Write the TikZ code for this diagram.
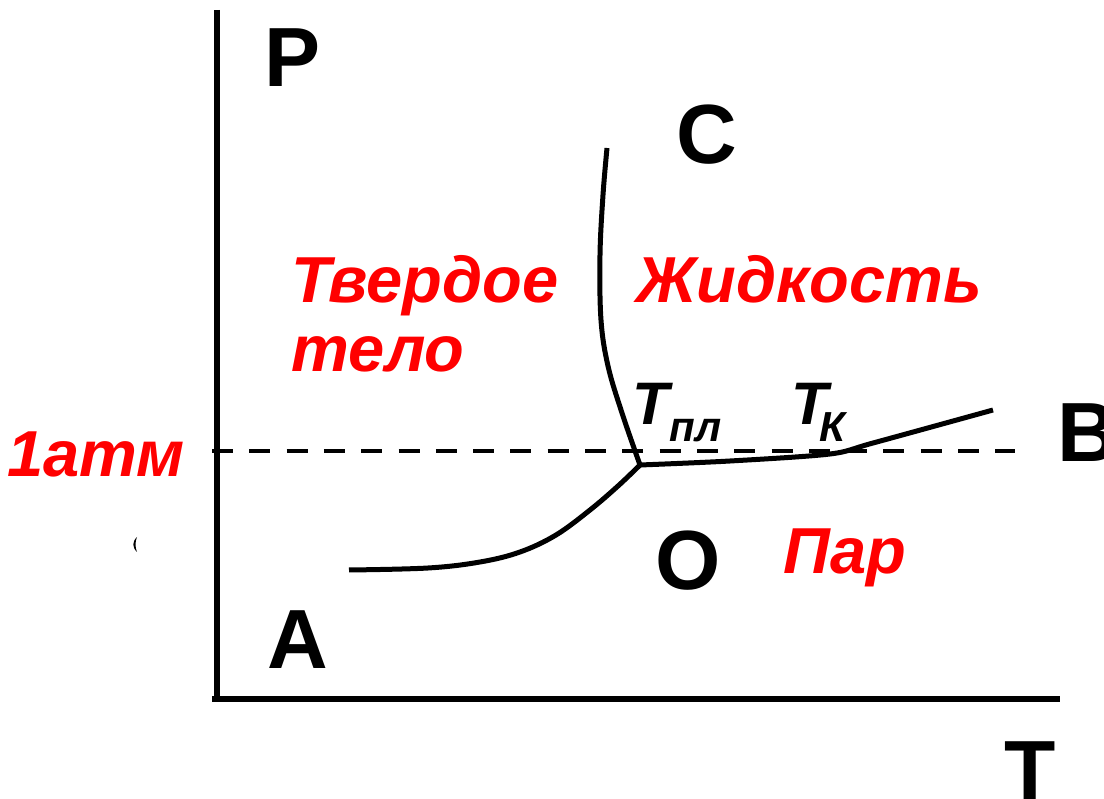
\documentclass[tikz,border=0pt]{standalone}
\usepackage{fontspec}
\setmainfont{Liberation Sans}
\definecolor{lblred}{RGB}{255,0,0}
\tikzset{
  axis/.style={line width=5.5pt},
  curve/.style={line width=5pt, line join=round},
  atmline/.style={line width=4pt, dash pattern=on 21pt off 16.3pt},
  letter/.style={inner sep=0pt, anchor=base, font=\fontsize{84}{84}\selectfont\bfseries},
  phase/.style={inner sep=0pt, anchor=base, text=lblred, font=\fontsize{65}{65}\selectfont\bfseries\itshape},
  temp/.style={inner sep=0pt, anchor=base west, font=\fontsize{60}{60}\selectfont\bfseries\itshape}
}
\begin{document}
\begin{tikzpicture}[x=1pt,y=-1pt]
\useasboundingbox (0,0) rectangle (1104,799);
% axes
\coordinate (ytop) at (217,10);
\coordinate (orig) at (217,699);
\coordinate (xend) at (1060,699);
\draw[axis] (ytop) -- (217,701);
\draw[axis] (212,699) -- (xend);
% 1 atm dashed line
\coordinate (dA) at (212,451);
\coordinate (dB) at (1015,451);
\draw[atmline] (dA) -- (dB);
% triple point
\coordinate (tp) at (640,465);
% melting curve
\draw[curve] plot[smooth, tension=0.6] coordinates {(607,148) (603,195) (600,255) (601,320) (608,366) (622,413) (tp)};
% sublimation curve
\draw[curve] plot[smooth, tension=0.6] coordinates {(349,570) (428,568) (480,562) (520,552) (556,535) (590,510) (618,486) (tp)};
% vaporization curve
\draw[curve] plot[smooth, tension=0.5] coordinates {(tp) (730,461) (830,454) (873,443) (993,410)};
% small mark
\fill (137,537) .. controls (132,542) and (132,547) .. (137,552) .. controls (135,547) and (135,542) .. cycle;
% letters
\node[letter] (P) at (293,87) {P};
\node[letter] (C) at (707,164) {C};
\node[letter] (A) at (298,668) {A};
\node[letter] (O) at (688,590) {O};
\node[letter] (Tax) at (1030,799) {T};
\node[letter, anchor=base west] (B) at (1057,462) {B};
% phase labels
\node[phase] (atm) at (96,477) {1атм};
\node[phase] (solid1) at (425,303) {Твердое};
\node[phase] (solid2) at (378,372) {тело};
\node[phase] (liquid) at (809,303) {Жидкость};
\node[phase] (vapor) at (845,573) {Пар};
% temperatures
\node[temp] (Tpl) at (632,425) {Т\hspace{1pt}\raisebox{-17pt}{\fontsize{42}{42}\selectfont пл}};
\node[temp] (Tk) at (791,425) {Т\hspace{-8pt}\raisebox{-17pt}{\fontsize{42}{42}\selectfont К}};
\end{tikzpicture}
\end{document}
